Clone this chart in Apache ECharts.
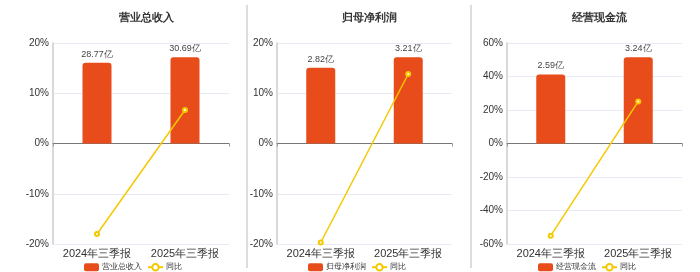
<!DOCTYPE html>
<html><head><meta charset="utf-8">
<script src="https://cdn.jsdelivr.net/npm/echarts@6/dist/echarts.min.js"></script>
<style>html,body{margin:0;padding:0;background:#fff}#c{width:700px;height:272px}</style>
</head><body><div id="c"></div>
<script>
var categories = ['2024年三季报', '2025年三季报'];
var titles = ['营业总收入', '归母净利润', '经营现金流'];
var revenue = [28.77, 30.69];
var revenueYoy = [-18.0, 6.67];
var profit = [2.82, 3.21];
var profitYoy = [-19.7, 13.83];
var cashflow = [2.59, 3.24];
var cashflowYoy = [-55.0, 25.1];
var pctTicks = [[-20, 20, 10], [-20, 20, 10], [-60, 60, 20]];
var barMax = [35.8, 3.74, 3.77];

var barData = [revenue, profit, cashflow];
var yoyData = [revenueYoy, profitYoy, cashflowYoy];
var grids = [{left: 53, width: 176}, {left: 277, width: 175}, {left: 507, width: 175}];
var centers = [141, 364, 594];
var legendLeft = [79, 303, 533];

var option = {
  animation: false,
  title: [], grid: [], xAxis: [], yAxis: [], series: [], legend: [],
  graphic: [
    {type: 'line', shape: {x1: 247, y1: 5, x2: 247, y2: 268}, style: {stroke: '#dddddd', lineWidth: 2}},
    {type: 'line', shape: {x1: 471, y1: 5, x2: 471, y2: 268}, style: {stroke: '#dddddd', lineWidth: 2}}
  ]
};
for (var i = 0; i < 3; i++) {
  option.title.push({text: titles[i], left: centers[i], top: 7, textAlign: 'center',
    textStyle: {fontSize: 11, fontWeight: 'bold', color: '#333'}});
  option.grid.push({left: grids[i].left, width: grids[i].width, top: 43, height: 201});
  option.xAxis.push({type: 'category', gridIndex: i, data: categories, position: 'bottom',
    axisLine: {show: false}, axisTick: {show: false},
    axisLabel: {color: '#333', fontSize: 11, margin: 4, interval: 0}});
  option.xAxis.push({type: 'category', gridIndex: i, data: categories, position: 'bottom',
    axisLine: {show: true, onZero: true, lineStyle: {color: '#777', width: 1}},
    axisTick: {show: true, length: 3, lineStyle: {color: '#999'}},
    axisLabel: {show: false}});
  var t = pctTicks[i];
  option.yAxis.push({type: 'value', gridIndex: i, min: t[0], max: t[1], interval: t[2],
    axisLine: {show: true, lineStyle: {color: '#ccc', width: 1.5}},
    axisTick: {show: false},
    splitLine: {lineStyle: {color: '#e6ebf5'}},
    axisLabel: {color: '#333', fontSize: 10, margin: 4, formatter: function (v) { return v + '%'; }}});
  option.yAxis.push({type: 'value', gridIndex: i, min: -barMax[i], max: barMax[i], show: false,
    splitLine: {show: false}});
  option.series.push({name: titles[i], type: 'bar', xAxisIndex: 2 * i, yAxisIndex: 2 * i + 1,
    data: barData[i], barWidth: 29,
    itemStyle: {color: '#e84c1a', borderRadius: [3, 3, 0, 0]},
    label: {show: true, position: 'top', fontSize: 9, color: '#444', distance: 4,
      formatter: function (p) { return p.value.toFixed(2) + '亿'; }}});
  option.series.push({name: '同比', type: 'line', xAxisIndex: 2 * i, yAxisIndex: 2 * i,
    data: yoyData[i], symbol: 'emptyCircle', symbolSize: 4,
    lineStyle: {color: '#f5c800', width: 1.5},
    itemStyle: {color: '#f5c800'}, z: 5});
  option.legend.push({data: [titles[i], '同比'], left: legendLeft[i], top: 258,
    itemWidth: 15, itemHeight: 8, itemGap: 5,
    textStyle: {fontSize: 8, color: '#333', padding: [0, 0, 0, -2]}});
}
var ch = echarts.init(document.getElementById('c'));
ch.setOption(option);
</script></body></html>
